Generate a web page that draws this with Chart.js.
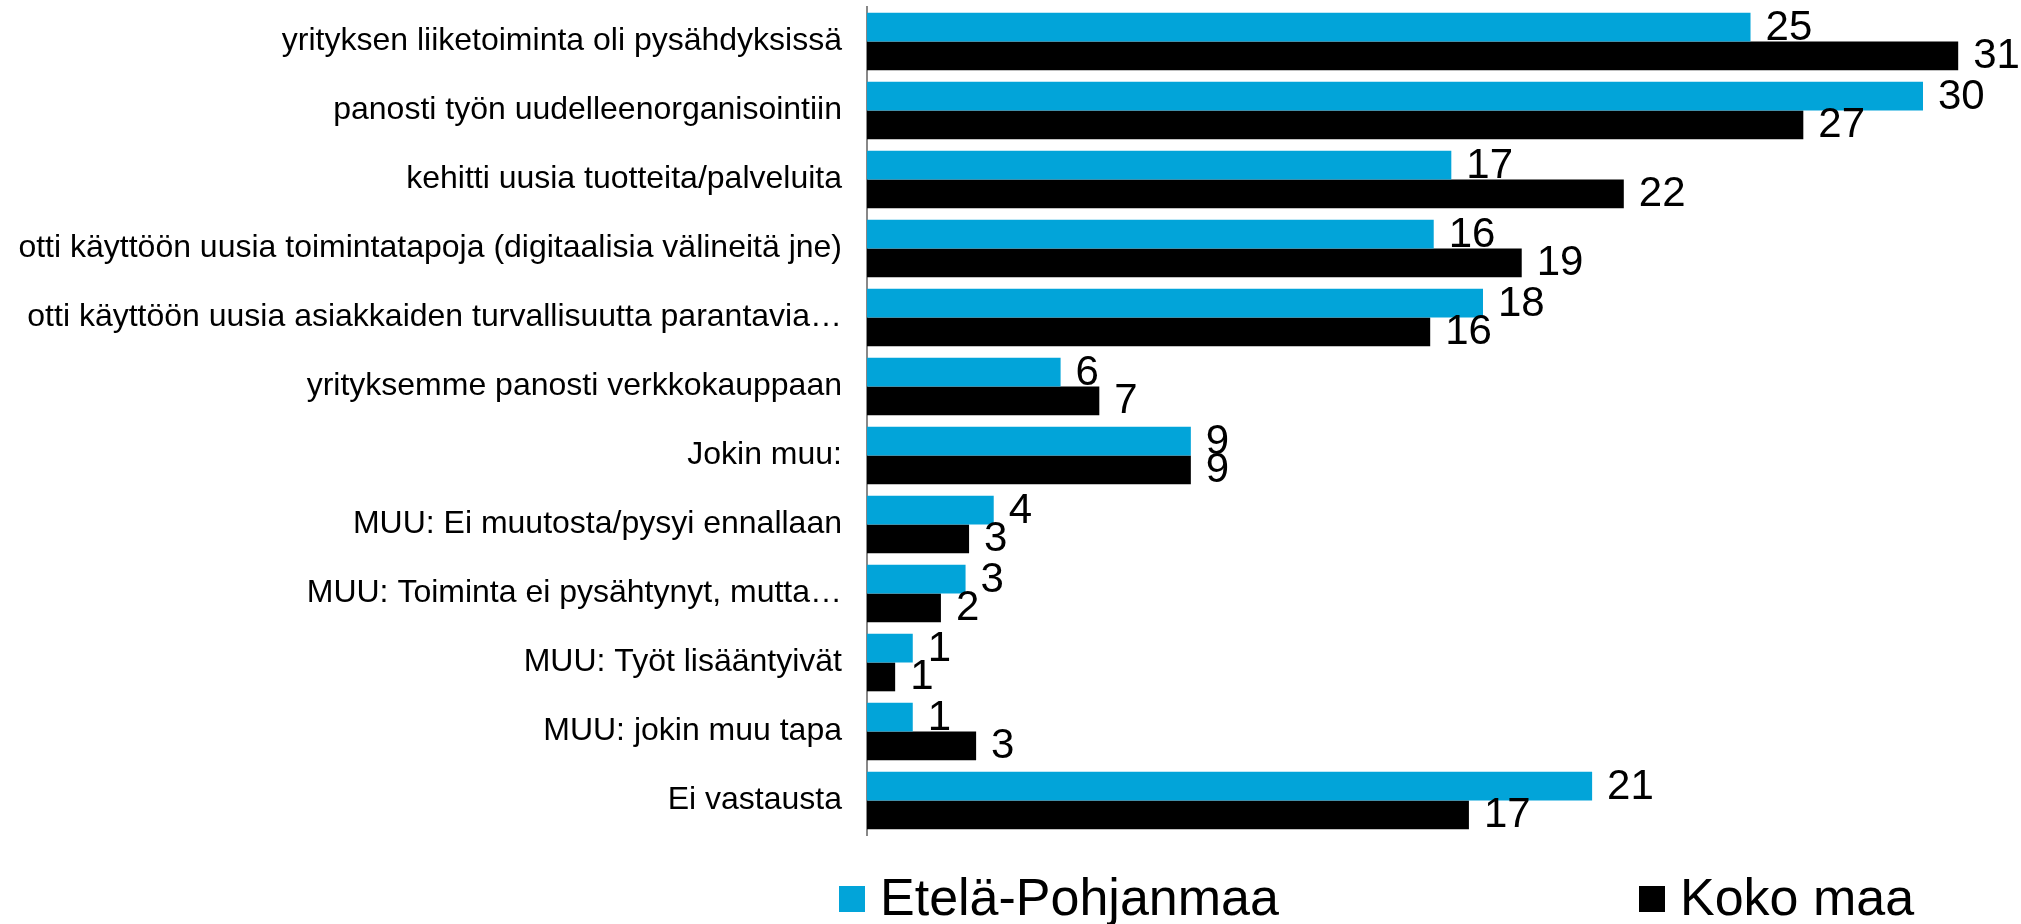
<!DOCTYPE html>
<html>
<head>
<meta charset="utf-8">
<script src="https://cdn.jsdelivr.net/npm/chart.js@4.4.1/dist/chart.umd.min.js"></script>
<style>
    html, body { margin: 0; padding: 0; background: #fff; }
</style>
</head>
<body>
<canvas id="ChangeChart" width="2021" height="924"></canvas>
<script>
var categories = [
    "yrityksen liiketoiminta oli pysähdyksissä",
    "panosti työn uudelleenorganisointiin",
    "kehitti uusia tuotteita/palveluita",
    "otti käyttöön uusia toimintatapoja (digitaalisia välineitä jne)",
    "otti käyttöön uusia asiakkaiden turvallisuutta parantavia…",
    "yrityksemme panosti verkkokauppaan",
    "Jokin muu:",
    "MUU: Ei muutosta/pysyi ennallaan",
    "MUU: Toiminta ei pysähtynyt, mutta…",
    "MUU: Työt lisääntyivät",
    "MUU: jokin muu tapa",
    "Ei vastausta"
];
var seriesNames = ["Etelä-Pohjanmaa", "Koko maa"];
var etelaPohjanmaa = [25.1, 30.0, 16.6, 16.1, 17.5, 5.5, 9.2, 3.6, 2.8, 1.3, 1.3, 20.6];
var kokoMaa = [31.0, 26.6, 21.5, 18.6, 16.0, 6.6, 9.2, 2.9, 2.1, 0.8, 3.1, 17.1];

var FONT = '"Liberation Sans", Arial, sans-serif';

// numbers at the end of every bar
var valueLabels = {
    id: "valueLabels",
    afterDatasetsDraw: function (chart) {
        var ctx = chart.ctx;
        ctx.save();
        ctx.font = "42px " + FONT;
        ctx.fillStyle = "#000";
        ctx.textAlign = "left";
        ctx.textBaseline = "middle";
        chart.data.datasets.forEach(function (dataset, i) {
            chart.getDatasetMeta(i).data.forEach(function (bar, j) {
                ctx.fillText(Math.round(dataset.data[j]), bar.x + 15, bar.y + 1);
            });
        });
        ctx.restore();
    }
};

// legend spread along the bottom like in the original slide
var bottomLegend = {
    id: "bottomLegend",
    afterDraw: function (chart) {
        var ctx = chart.ctx;
        var starts = [chart.chartArea.left - 28, chart.chartArea.left + 772];
        var baseline = 915;
        ctx.save();
        ctx.font = "52px " + FONT;
        ctx.textAlign = "left";
        ctx.textBaseline = "alphabetic";
        chart.data.datasets.forEach(function (dataset, i) {
            ctx.fillStyle = dataset.backgroundColor;
            ctx.fillRect(starts[i], baseline - 29, 26, 26);
            ctx.fillStyle = "#000";
            ctx.fillText(dataset.label, starts[i] + 41, baseline);
        });
        ctx.restore();
    }
};

var context = document.getElementById("ChangeChart").getContext("2d");
var chart = new Chart(context, {
    type: "bar",
    data: {
        labels: categories,
        datasets: [{
            label: seriesNames[0],
            data: etelaPohjanmaa,
            backgroundColor: "#02a4d9"
        }, {
            label: seriesNames[1],
            data: kokoMaa,
            backgroundColor: "#000000"
        }]
    },
    options: {
        indexAxis: "y",
        responsive: false,
        animation: false,
        devicePixelRatio: 1,
        datasets: {
            bar: {
                categoryPercentage: 0.835,
                barPercentage: 1.0
            }
        },
        layout: {
            padding: { top: 7, bottom: 89, left: 0, right: 10 }
        },
        plugins: {
            legend: { display: false },
            tooltip: { enabled: false }
        },
        scales: {
            x: {
                display: false,
                min: 0,
                max: 32.5
            },
            y: {
                grid: { display: false, drawTicks: false },
                border: { display: true, color: "#888888", width: 2 },
                ticks: {
                    autoSkip: false,
                    color: "#000",
                    padding: 25,
                    font: { family: FONT, size: 32 }
                },
                afterFit: function (scale) {
                    scale.width = 867;
                    scale.paddingTop = 0;
                    scale.paddingBottom = 0;
                }
            }
        }
    },
    plugins: [valueLabels, bottomLegend]
});
</script>
</body>
</html>
